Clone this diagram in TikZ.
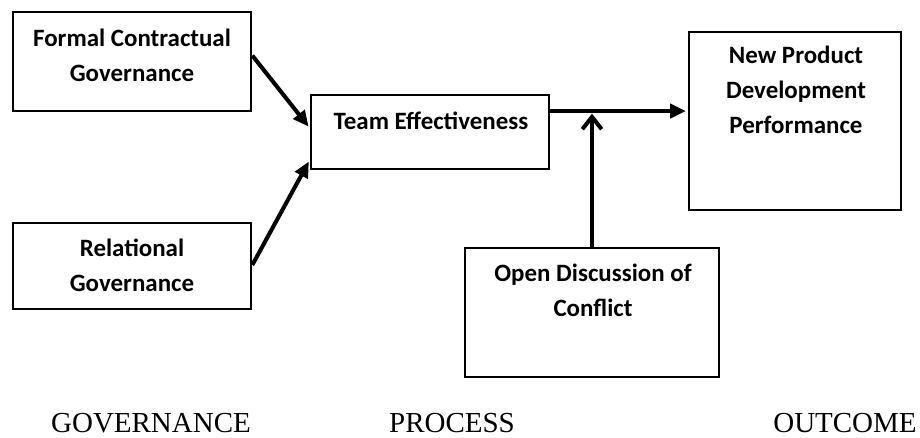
\documentclass[tikz,border=0pt]{standalone}
\usepackage{fontspec}
\setmainfont{Liberation Serif}
\newfontfamily\calibri{Carlito}
\usepackage{tikz}
\usetikzlibrary{arrows.meta,calc,positioning}
\tikzset{
	boxnode/.style={rectangle, draw=black, line width=1.5pt, inner sep=0pt},
	boxtext/.style={align=center, inner sep=0pt, font=\calibri\bfseries\fontsize{14.2}{20}\selectfont},
	stagetext/.style={anchor=base, inner sep=0pt, font=\fontsize{16.5}{20}\selectfont},
	mainarrow/.style={line width=2.3pt, -{Triangle[length=9pt,width=8pt]}, shorten >=1pt},
	modarrow/.style={line width=2.3pt, -{Straight Barb[length=7pt,width=11pt]}, shorten >=1.5pt}
}
\begin{document}
\begin{tikzpicture}[x=0.02cm,y=-0.02cm]
	\useasboundingbox (0,0) rectangle (920,437);
	
	\node[boxnode, minimum width=4.76cm, minimum height=1.98cm] (formal) at (132,61.5) {};
	\node[boxtext] (formal-t) at (132,55) {Formal Contractual\\Governance};
	\node[boxnode, minimum width=4.76cm, minimum height=1.72cm] (relational) at (132,266) {};
	\node[boxtext] (relational-t) at (132,265.5) {Relational\\Governance};
	\node[boxnode, minimum width=4.76cm, minimum height=1.48cm] (team) at (430,132) {};
	\node[boxtext] (team-t) at (431,120.5) {Team Effectiveness};
	\node[boxnode, minimum width=5.08cm, minimum height=2.58cm] (open) at (592,312.5) {};
	\node[boxtext] (open-t) at (593,290) {Open Discussion of\\Conflict};
	\node[boxnode, minimum width=4.24cm, minimum height=3.56cm] (npd) at (795,121) {};
	\node[boxtext] (npd-t) at (796,90) {New Product\\Development\\Performance};
	
	\coordinate (j) at (593,111);
	\draw[mainarrow] ($(formal.east)+(0,-6)$) -- ($(team.west)+(0,-4)$);
	\draw[mainarrow] ($(relational.east)+(0,-1)$) -- ($(team.west)+(0,28)$);
	\draw[mainarrow] (team.east |- j) -- (npd.west |- j);
	\draw[modarrow] (open.north) -- (open.north |- j);
	
	\node[stagetext] (gov) at (151,432) {GOVERNANCE};
	\node[stagetext] (proc) at (452,432) {PROCESS};
	\node[stagetext] (outc) at (845,432) {OUTCOME};
\end{tikzpicture}
\end{document}
